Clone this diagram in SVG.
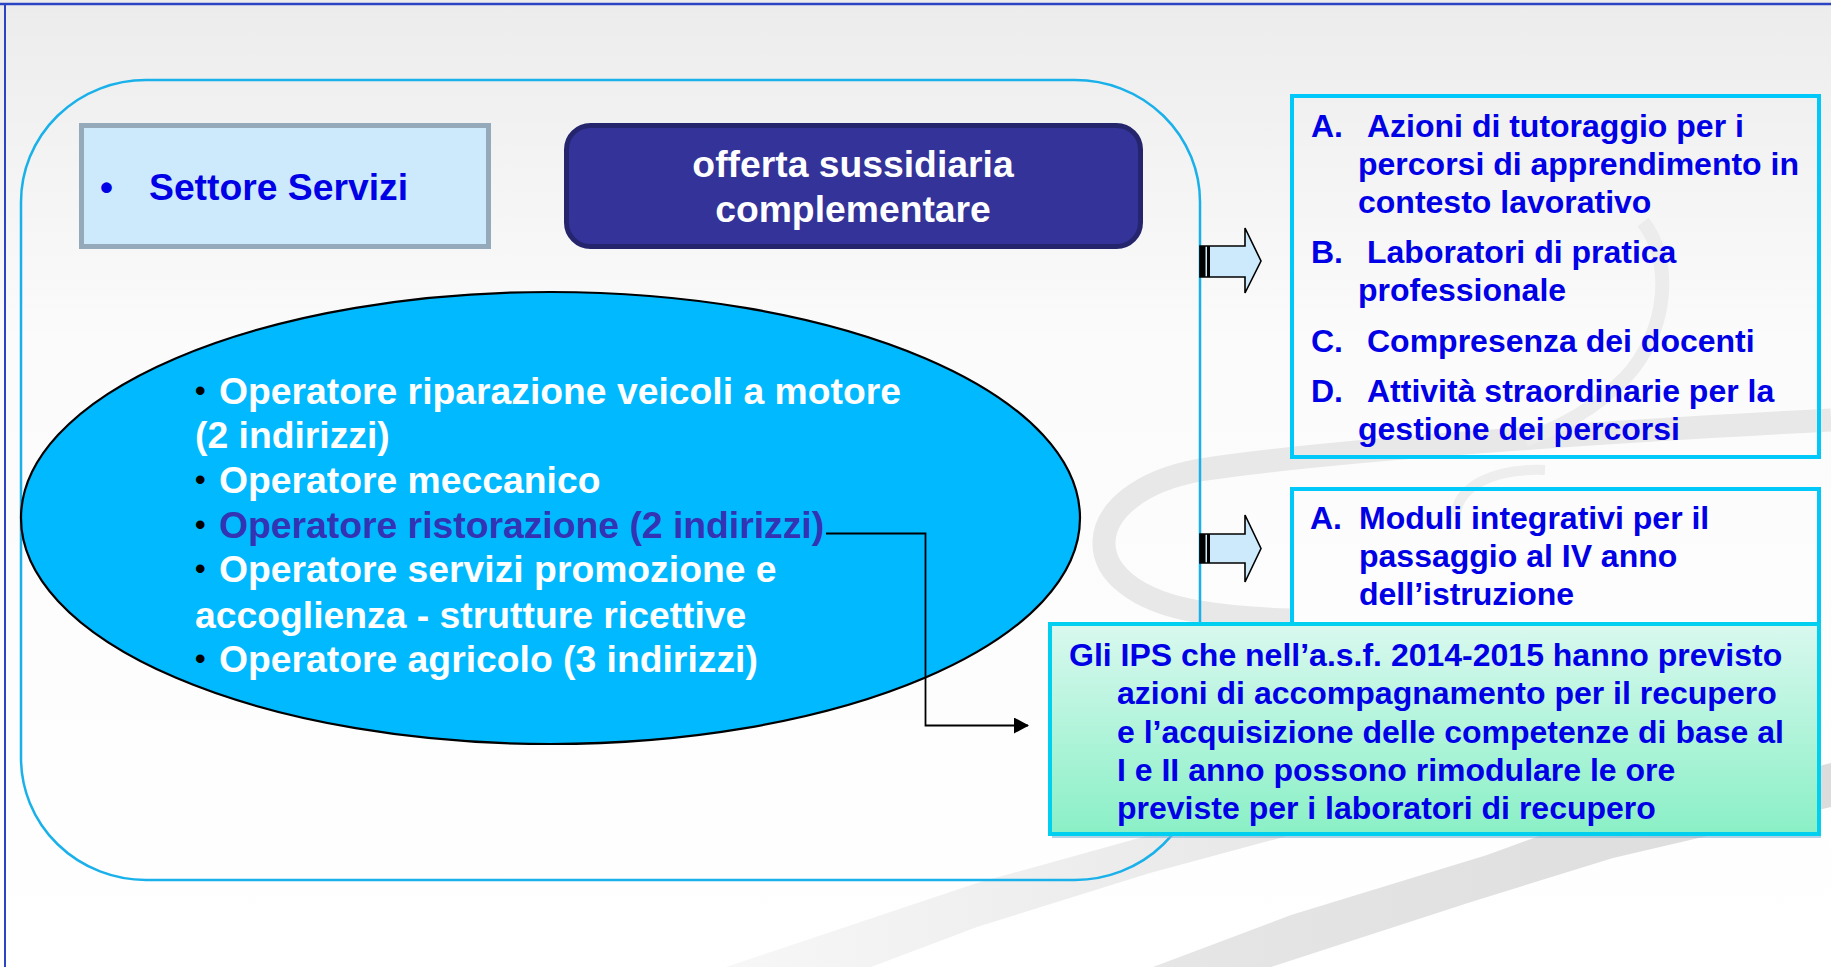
<svg xmlns="http://www.w3.org/2000/svg" width="1831" height="967" viewBox="0 0 1831 967">
<defs>
<linearGradient id="bg" x1="0" y1="0" x2="0" y2="1">
<stop offset="0" stop-color="#ececec"/>
<stop offset="0.35" stop-color="#fbfbfb"/>
<stop offset="1" stop-color="#ffffff"/>
</linearGradient>
<linearGradient id="mint" x1="0" y1="0" x2="0" y2="1">
<stop offset="0" stop-color="#d9f8ef"/>
<stop offset="1" stop-color="#8af0c6"/>
</linearGradient>
<linearGradient id="bandA" x1="726" y1="0" x2="1300" y2="0" gradientUnits="userSpaceOnUse">
<stop offset="0" stop-color="#f7f7f7"/>
<stop offset="1" stop-color="#e7e7e7"/>
</linearGradient>
<linearGradient id="bandB" x1="1150" y1="0" x2="1831" y2="0" gradientUnits="userSpaceOnUse">
<stop offset="0" stop-color="#e6e6e6"/>
<stop offset="1" stop-color="#dcdcdc"/>
</linearGradient>
<marker id="ah" markerUnits="userSpaceOnUse" markerWidth="16" markerHeight="16" refX="14" refY="8" orient="auto">
<path d="M0,0 L15,8 L0,16 Z" fill="#000"/>
</marker>
<style>
.t{font-family:"Liberation Sans",Arial,sans-serif;font-weight:bold}
.w{fill:#ffffff;font-size:37.3px}
.b{fill:#0000e6;font-size:32px}
.bul{font-size:30px;fill:#000000}
.box{fill:none;stroke:#00c8f8;stroke-width:4}
.barrow{fill:#cceafc;stroke:#000;stroke-width:1.6}
.sw{fill:none;stroke-linecap:butt}
</style>
</defs>
<rect x="0" y="0" width="1831" height="967" fill="url(#bg)"/>

<g id="decoration">
<path class="sw" d="M1831,420 C1600,432 1330,450 1200,470 C1078,492 1066,590 1200,612 C1230,617 1260,619 1290,620" stroke="#e8e8e8" stroke-width="23"/>
<path class="sw" d="M1643,222 C1672,258 1670,330 1625,378 C1595,408 1565,425 1525,440" stroke="#ececec" stroke-width="14"/>
<path class="sw" d="M1545,470 C1492,468 1458,487 1456,515" stroke="#eeeeee" stroke-width="10"/>
<path d="M726,967 L977,883 L1150,835 L1400,760 L1500,745 L1500,800 L1291,835 L1150,873 L977,927 L871,967 Z" fill="url(#bandA)"/>
<path d="M1153,967 L1291,915 L1487,855 L1542,835 L1831,763 L1831,807 L1613,858 L1471,902 L1271,967 Z" fill="url(#bandB)"/>
</g>

<line x1="0" y1="4" x2="1831" y2="4" stroke="#2a44c4" stroke-width="2.5"/>
<line x1="5" y1="4" x2="5" y2="967" stroke="#2a44c4" stroke-width="2"/>

<g id="container">
<rect x="21" y="80" width="1179" height="800" rx="125" ry="122" fill="none" stroke="#1ab1ea" stroke-width="2.5"/>
</g>

<g id="settore">
<rect x="81.5" y="125.5" width="407" height="121" fill="#cceafb" stroke="#94aabb" stroke-width="5"/>
<text class="t" x="100" y="200" fill="#0000e6" font-size="37">•</text>
<text class="t" x="149" y="200" fill="#0000e6" font-size="37.3">Settore Servizi</text>
</g>

<g id="offerta">
<rect x="566.5" y="125.5" width="574" height="121" rx="24" ry="24" fill="#333399" stroke="#25256e" stroke-width="5"/>
<text class="t w" x="853" y="177" text-anchor="middle">offerta sussidiaria</text>
<text class="t w" x="853" y="222" text-anchor="middle">complementare</text>
</g>

<g id="operatori">
<ellipse cx="550.5" cy="518" rx="529.5" ry="226" fill="#00b9ff" stroke="#000" stroke-width="2.2"/>
<text class="t bul" x="195" y="401">•</text>
<text class="t w" x="219" y="404">Operatore riparazione veicoli a motore</text>
<text class="t w" x="195" y="448">(2 indirizzi)</text>
<text class="t bul" x="195" y="490">•</text>
<text class="t w" x="219" y="493">Operatore meccanico</text>
<text class="t bul" x="195" y="535">•</text>
<text class="t" x="219" y="538" fill="#3333b3" font-size="37.3">Operatore ristorazione (2 indirizzi)</text>
<text class="t bul" x="195" y="579">•</text>
<text class="t w" x="219" y="582">Operatore servizi promozione e</text>
<text class="t w" x="195" y="628">accoglienza - strutture ricettive</text>
<text class="t bul" x="195" y="669">•</text>
<text class="t w" x="219" y="672">Operatore agricolo (3 indirizzi)</text>
</g>

<g id="arrow1">
<path class="barrow" d="M1200,246 H1245 V228 L1261,261 L1245,293 V277 H1200 Z"/>
<rect x="1200" y="246" width="5.5" height="31" fill="#000"/>
<rect x="1207" y="246" width="3" height="31" fill="#000"/>
</g>

<g id="arrow2">
<path class="barrow" d="M1200,534 H1245 V515 L1261,548.5 L1245,582 V563 H1200 Z"/>
<rect x="1200" y="534" width="5.5" height="29" fill="#000"/>
<rect x="1207" y="534" width="3" height="29" fill="#000"/>
</g>

<g id="azioni">
<rect class="box" x="1292" y="96" width="527" height="361"/>
<text class="t b" x="1311" y="137">A.</text>
<text class="t b" x="1367" y="137">Azioni di tutoraggio per i</text>
<text class="t b" x="1358" y="175">percorsi di apprendimento in</text>
<text class="t b" x="1358" y="213">contesto lavorativo</text>
<text class="t b" x="1311" y="263">B.</text>
<text class="t b" x="1367" y="263">Laboratori di pratica</text>
<text class="t b" x="1358" y="301">professionale</text>
<text class="t b" x="1311" y="352">C.</text>
<text class="t b" x="1367" y="352">Compresenza dei docenti</text>
<text class="t b" x="1311" y="402">D.</text>
<text class="t b" x="1367" y="402">Attività straordinarie per la</text>
<text class="t b" x="1358" y="440">gestione dei percorsi</text>
</g>

<g id="moduli">
<rect class="box" x="1292" y="489" width="527" height="140"/>
<text class="t b" x="1310" y="529">A.</text>
<text class="t b" x="1359" y="529">Moduli integrativi per il</text>
<text class="t b" x="1359" y="567">passaggio al IV anno</text>
<text class="t b" x="1359" y="605">dell’istruzione</text>
</g>

<g id="ips">
<rect x="1052" y="627" width="769" height="211" fill="#7fb4d8" opacity="0.6"/>
<rect x="1050" y="624" width="769" height="210" fill="url(#mint)" stroke="#00cff0" stroke-width="4"/>
<text class="t b" x="1069" y="666">Gli IPS che nell’a.s.f. 2014-2015 hanno previsto</text>
<text class="t b" x="1117" y="704">azioni di accompagnamento per il recupero</text>
<text class="t b" x="1117" y="743">e l’acquisizione delle competenze di base al</text>
<text class="t b" x="1117" y="781">I e II anno possono rimodulare le ore</text>
<text class="t b" x="1117" y="819">previste per i laboratori di recupero</text>
</g>

<g id="connectors">
<path d="M826,533.5 H925.5 V725.5 H1028" fill="none" stroke="#000" stroke-width="1.8" marker-end="url(#ah)"/>
</g>
</svg>
